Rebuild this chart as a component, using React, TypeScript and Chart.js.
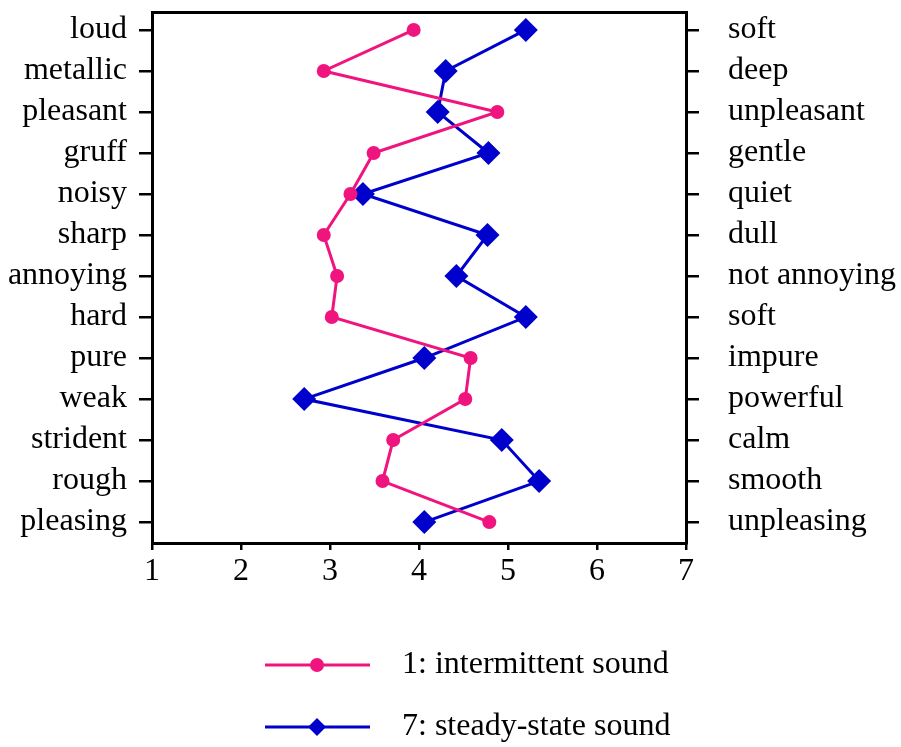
import React, { useEffect, useRef } from "react";
import { Chart, registerables } from "chart.js";

Chart.register(...registerables);

const leftLabels = ["loud", "metallic", "pleasant", "gruff", "noisy", "sharp", "annoying", "hard", "pure", "weak", "strident", "rough", "pleasing"];
const rightLabels = ["soft", "deep", "unpleasant", "gentle", "quiet", "dull", "not annoying", "soft", "impure", "powerful", "calm", "smooth", "unpleasing"];
const xTicks = [1, 2, 3, 4, 5, 6, 7];
const seriesNames = ["1: intermittent sound", "7: steady-state sound"];
const intermittent = [3.94, 2.93, 4.88, 3.49, 3.23, 2.93, 3.08, 3.02, 4.58, 4.52, 3.71, 3.59, 4.79];
const steadyState = [5.2, 4.3, 4.21, 4.78, 3.37, 4.77, 4.42, 5.2, 4.06, 2.71, 4.93, 5.35, 4.06];

const PINK = "#f0147f";
const BLUE = "#0000cc";
const FONT = "Liberation Serif";
const FONT_SIZE = 32;

export default function App() {
  const ref = useRef<HTMLCanvasElement>(null);
  useEffect(() => {
    document.body.style.margin = "0";
    const canvas = ref.current!;
    const yMin = -0.437;
    const yMax = 12.51;
    const toPts = (arr: number[]) => arr.map((v, i) => ({ x: v, y: i }));

    const legendPlugin = {
      id: "customLegend",
      afterDraw(chart: any) {
        const ctx = chart.ctx;
        const rows = [665, 727];
        chart.data.datasets.forEach((ds: any, i: number) => {
          const y = rows[i];
          ctx.save();
          ctx.strokeStyle = ds.borderColor;
          ctx.lineWidth = ds.borderWidth;
          ctx.beginPath();
          ctx.moveTo(265, y);
          ctx.lineTo(370, y);
          ctx.stroke();
          ctx.fillStyle = ds.backgroundColor;
          ctx.beginPath();
          if (ds.pointStyle === "circle") {
            ctx.arc(317, y, ds.pointRadius, 0, Math.PI * 2);
          } else {
            const r = ds.pointRadius * Math.SQRT1_2 * Math.SQRT2 * 0.75;
            ctx.moveTo(317, y - r);
            ctx.lineTo(317 + r, y);
            ctx.lineTo(317, y + r);
            ctx.lineTo(317 - r, y);
            ctx.closePath();
          }
          ctx.fill();
          ctx.fillStyle = "#000";
          ctx.font = `${FONT_SIZE}px "${FONT}"`;
          ctx.textBaseline = "middle";
          ctx.textAlign = "left";
          ctx.fillText(ds.label, 402, y);
          ctx.restore();
        });
      },
    };

    const zeroPad = (scale: any) => {
      scale.paddingTop = 0;
      scale.paddingBottom = 0;
      scale.paddingLeft = 0;
      scale.paddingRight = 0;
    };

    const yAxisCommon = (labels: string[], position: string, width: number, padding: number) => ({
      type: "linear",
      position,
      reverse: true,
      min: yMin,
      max: yMax,
      afterBuildTicks: (scale: any) => {
        scale.ticks = labels.map((_, i) => ({ value: i }));
      },
      afterFit: (scale: any) => {
        scale.width = width;
        zeroPad(scale);
      },
      ticks: {
        autoSkip: false,
        padding,
        color: "#000",
        font: { family: FONT, size: FONT_SIZE },
        callback: (v: number) => labels[v],
      },
      grid: {
        display: true,
        drawOnChartArea: false,
        drawTicks: true,
        tickLength: 13,
        lineWidth: 2.5,
        color: "#000",
      },
      border: { display: true, color: "#000", width: 3 },
    });

    const chart = new Chart(canvas, {
      type: "scatter",
      data: {
        datasets: [
          {
            label: seriesNames[0],
            data: toPts(intermittent),
            showLine: true,
            borderColor: PINK,
            backgroundColor: PINK,
            borderWidth: 3,
            pointStyle: "circle",
            pointRadius: 7,
            pointBorderWidth: 0,
            xAxisID: "x",
            yAxisID: "y",
          },
          {
            label: seriesNames[1],
            data: toPts(steadyState),
            showLine: true,
            borderColor: BLUE,
            backgroundColor: BLUE,
            borderWidth: 3,
            pointStyle: "rectRot",
            pointRadius: 12,
            pointBorderWidth: 0,
            xAxisID: "x",
            yAxisID: "y",
          },
        ],
      } as any,
      options: {
        animation: false,
        responsive: false,
        maintainAspectRatio: false,
        layout: { padding: 0 },
        plugins: {
          legend: { display: false },
          tooltip: { enabled: false },
        },
        scales: {
          x: {
            type: "linear",
            position: "bottom",
            min: 1,
            max: 7,
            afterBuildTicks: (scale: any) => {
              scale.ticks = xTicks.map((v) => ({ value: v }));
            },
            afterFit: (scale: any) => {
              scale.height = 204;
              zeroPad(scale);
            },
            ticks: {
              padding: 2,
              color: "#000",
              font: { family: FONT, size: FONT_SIZE },
              maxRotation: 0,
            },
            grid: {
              display: true,
              drawOnChartArea: false,
              drawTicks: true,
              tickLength: 7,
              lineWidth: 2.5,
              color: "#000",
            },
            border: { display: true, color: "#000", width: 3 },
          },
          xTop: {
            type: "linear",
            position: "top",
            min: 1,
            max: 7,
            afterFit: (scale: any) => {
              scale.height = 10;
              zeroPad(scale);
            },
            ticks: { display: false },
            grid: { display: true, drawOnChartArea: false, drawTicks: false, color: "rgba(0,0,0,0)" },
            border: { display: true, color: "#000", width: 3 },
          },
          y: yAxisCommon(leftLabels, "left", 152, 12),
          y2: yAxisCommon(rightLabels, "right", 215, 29),
        } as any,
      },
      plugins: [legendPlugin],
    } as any);
    return () => chart.destroy();
  }, []);

  return (
    <div style={{ width: 901, height: 747 }}>
      <canvas ref={ref} width={901} height={747} style={{ display: "block" }} />
    </div>
  );
}
